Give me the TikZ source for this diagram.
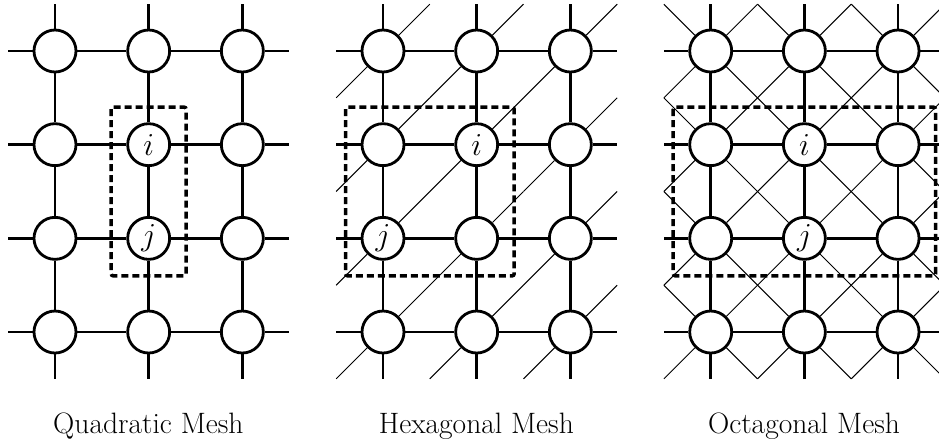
\RequirePackage{fix-cm}
\documentclass[tikz,border=0pt]{standalone}
\usetikzlibrary{calc}
\begin{document}
\begin{tikzpicture}[x=1pt,y=-1pt,
  meshnode/.style={circle,draw,line width=2.8pt,fill=white,minimum size=42pt,inner sep=0pt},
  meshlabel/.style={inner sep=0pt,font=\fontsize{32}{36}\selectfont},
  gridline/.style={line width=2.5pt},
  diagline/.style={line width=1pt},
  region/.style={line width=3.5pt,dash pattern=on 7pt off 4pt,rounded corners=2pt},
  caption/.style={anchor=base,font=\fontsize{29.5}{34}\selectfont}]
\clip (0,0) rectangle (939,445);
\def\s{93.67}
\def\h{46.83}
% nodes
\foreach \p/\X in {q/55,h/383,o/710.7}{
  \foreach \c in {0,1,2}{
    \foreach \r in {0,1,2,3}{
      \node[meshnode] (\p-\c-\r) at ({\X+\c*\s},{51+\r*\s}) {};
    }
  }
}
% labels
\node[meshlabel] (qi) at (q-1-1) {$i$};
\node[meshlabel] (qj) at (q-1-2) {$j$};
\node[meshlabel] (hi) at (h-1-1) {$i$};
\node[meshlabel] (hj) at (h-0-2) {$j$};
\node[meshlabel] (oi) at (o-1-1) {$i$};
\node[meshlabel] (oj) at (o-1-2) {$j$};
% grid lines
\foreach \p in {q,h,o}{
  \foreach \r in {0,1,2,3}{
    \draw[gridline] (\p-0-\r) -- ++(-\h,0);
    \draw[gridline] (\p-0-\r) -- (\p-1-\r) -- (\p-2-\r);
    \draw[gridline] (\p-2-\r) -- ++(\h,0);
  }
  \foreach \c in {0,1,2}{
    \draw[gridline] (\p-\c-0) -- ++(0,-\h);
    \draw[gridline] (\p-\c-0) -- (\p-\c-1) -- (\p-\c-2) -- (\p-\c-3);
    \draw[gridline] (\p-\c-3) -- ++(0,\h);
  }
}
% diagonals
\foreach \c in {0,1,2}{
  \foreach \r in {0,1,2,3}{
    \draw[diagline] (h-\c-\r) -- ++(\h,-\h);
    \draw[diagline] (h-\c-\r) -- ++(-\h,\h);
    \draw[diagline] (o-\c-\r) -- ++(\h,-\h);
    \draw[diagline] (o-\c-\r) -- ++(-\h,\h);
    \draw[diagline] (o-\c-\r) -- ++(\h,\h);
    \draw[diagline] (o-\c-\r) -- ++(-\h,-\h);
  }
}
% dashed regions
\draw[region] ($(q-1-1)+(-37.5,-37.5)$) rectangle ($(q-1-2)+(37.5,37.5)$);
\draw[region] ($(h-0-1)+(-37.5,-37.5)$) rectangle ($(h-1-2)+(37.5,37.5)$);
\draw[region] ($(o-0-1)+(-37.5,-37.5)$) rectangle ($(o-2-2)+(37.5,37.5)$);
% captions
\node[caption] (qcap) at (148.4,433) {Quadratic Mesh};
\node[caption] (hcap) at (476.4,433) {Hexagonal Mesh};
\node[caption] (ocap) at (804.0,433) {Octagonal Mesh};
\end{tikzpicture}
\end{document}
